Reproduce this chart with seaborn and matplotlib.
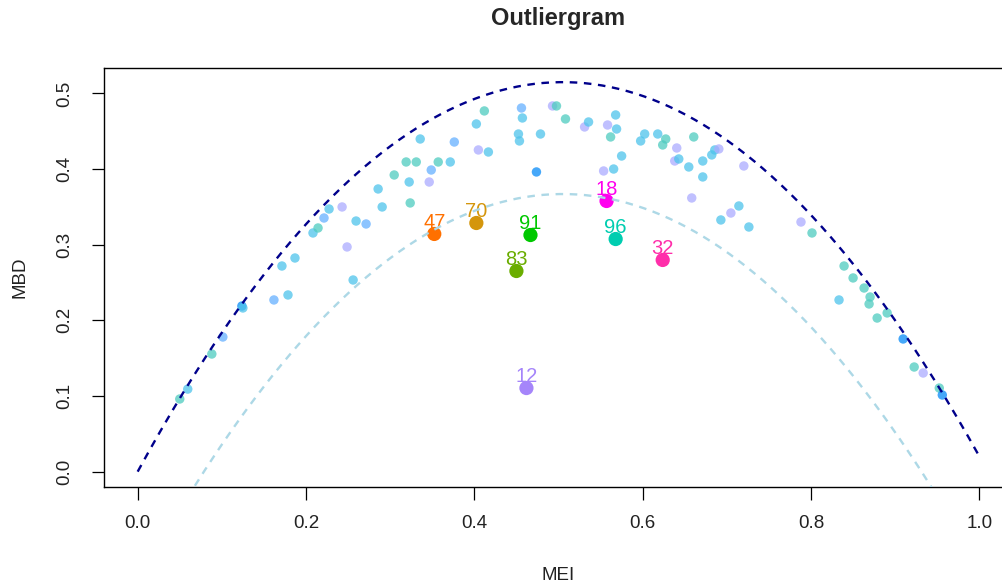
import numpy as np
import pandas as pd
import matplotlib
matplotlib.use("Agg")
import matplotlib.pyplot as plt
import seaborn as sns

# ---------------- data ----------------
mei = [0.050, 0.0595, 0.0881, 0.1012, 0.1238, 0.1250, 0.1619, 0.1786, 0.1714, 0.1869,
       0.2083, 0.2143, 0.2214, 0.2274, 0.2429, 0.2595, 0.2488, 0.2560, 0.2714, 0.2857,
       0.2905, 0.3048, 0.3226, 0.3238, 0.3190, 0.3310, 0.3357, 0.3488, 0.3464, 0.3571,
       0.3714, 0.3762, 0.4119, 0.4024, 0.4048, 0.4167, 0.4560, 0.4571, 0.4524, 0.4536,
       0.4786, 0.4738, 0.4929, 0.4976, 0.5083, 0.5310, 0.5357, 0.5583, 0.5679, 0.5690,
       0.5619, 0.5750, 0.5536, 0.5655, 0.6024, 0.5976, 0.6179, 0.6274, 0.6238, 0.6405,
       0.6381, 0.6429, 0.6607, 0.6548, 0.6714, 0.6821, 0.6857, 0.6905, 0.6714, 0.7202,
       0.6583, 0.7143, 0.7048, 0.6929, 0.7262, 0.7881, 0.8012, 0.8393, 0.8500, 0.8631,
       0.8702, 0.8690, 0.8333, 0.8905, 0.8786, 0.9095, 0.9226, 0.9333, 0.9524, 0.9560]
mbd = [0.0959, 0.1090, 0.1554, 0.1779, 0.2189, 0.2163, 0.2269, 0.2335, 0.2718, 0.2824,
       0.3155, 0.3221, 0.3353, 0.3472, 0.3499, 0.3313, 0.2970, 0.2533, 0.3274, 0.3737,
       0.3499, 0.3922, 0.3829, 0.3552, 0.4094, 0.4094, 0.4398, 0.3988, 0.3829, 0.4094,
       0.4094, 0.4358, 0.4769, 0.4597, 0.4253, 0.4226, 0.4808, 0.4676, 0.4464, 0.4372,
       0.4464, 0.3962, 0.4835, 0.4835, 0.4663, 0.4557, 0.4623, 0.4583, 0.4716, 0.4530,
       0.4425, 0.4173, 0.3975, 0.4001, 0.4464, 0.4372, 0.4464, 0.4398, 0.4319, 0.4279,
       0.4107, 0.4134, 0.4425, 0.4028, 0.4107, 0.4187, 0.4253, 0.4266, 0.3896, 0.4041,
       0.3618, 0.3512, 0.3419, 0.3327, 0.3234, 0.3300, 0.3155, 0.2718, 0.2560, 0.2427,
       0.2308, 0.2216, 0.2269, 0.2097, 0.2030, 0.1753, 0.1382, 0.1303, 0.1104, 0.1012]
group = list("tctbdcbccc" "ctbclclcbc" "ctctttcblt" "cbtclcbccc" "cdlttlclcc"
             "tclccccttl" "lctcccclcl" "lclccltttt" "ttcttdtltd")

out_id = ["47", "70", "91", "83", "12", "18", "96", "32"]
out_mei = [0.3524, 0.4024, 0.4667, 0.4500, 0.4619, 0.5571, 0.5679, 0.6238]
out_mbd = [0.3142, 0.3287, 0.3128, 0.2652, 0.1104, 0.3578, 0.3075, 0.2798]
out_col = ["#FF7000", "#D4960C", "#00C800", "#6AAD00", "#A585FA", "#FF00EE", "#00CDB0", "#FF2EAA"]

# parabola of the outliergram: a0 + a1*MEI + a2*MEI^2, lower bound shifted down
a0, a1, a2 = -0.000202, 2.0404, -2.0202
lower_shift = 0.148

group_pal = {"t": "#4ECBC0", "c": "#4EC3EB", "b": "#66B0FF", "l": "#ABABFF", "d": "#088BF8"}

x_ticks = [0.0, 0.2, 0.4, 0.6, 0.8, 1.0]
y_ticks = [0.0, 0.1, 0.2, 0.3, 0.4, 0.5]

# ---------------- plot ----------------
sns.set_style("white")
plt.rcParams["font.family"] = ["Liberation Sans", "DejaVu Sans"]

fig = plt.figure(figsize=(10.03, 5.86), dpi=100)
ax = fig.add_axes([104 / 1003, (586 - 487) / 586, 909 / 1003, 419 / 586])

df = pd.DataFrame({"MEI": mei, "MBD": mbd, "g": group})
sns.scatterplot(data=df, x="MEI", y="MBD", hue="g", palette=group_pal, s=46,
                alpha=0.75, linewidth=0, legend=False, ax=ax, zorder=2)

dfo = pd.DataFrame({"MEI": out_mei, "MBD": out_mbd, "id": out_id})
sns.scatterplot(data=dfo, x="MEI", y="MBD", hue="id", palette=dict(zip(out_id, out_col)),
                s=105, linewidth=0, legend=False, ax=ax, zorder=3)
for xi, yi, lab, c in zip(out_mei, out_mbd, out_id, out_col):
    ax.annotate(lab, (xi, yi), xytext=(0, 8), textcoords="offset points",
                ha="center", va="center", fontsize=14.5, color=c, zorder=4)

grid = np.linspace(0, 1, 300)
upper = a0 + a1 * grid + a2 * grid ** 2
lower = upper - lower_shift
sns.lineplot(x=grid, y=upper, ax=ax, color="#00008B", linewidth=1.7,
             linestyle=(0, (3.2, 2.8)), errorbar=None, zorder=5)
sns.lineplot(x=grid, y=lower, ax=ax, color="#ADD8E6", linewidth=1.7,
             linestyle=(0, (3.2, 2.8)), errorbar=None, zorder=5)

ax.set_xlim(-0.04, 1.04)
ax.set_ylim(-0.0205, 0.5337)
ax.set_xticks(x_ticks)
ax.set_xticklabels([f"{v:.1f}" for v in x_ticks])
ax.set_yticks(y_ticks)
ax.set_yticklabels([f"{v:.1f}" for v in y_ticks], rotation=90, va="center")
ax.tick_params(axis="both", which="major", bottom=True, left=True, direction="out",
               length=9, width=0.9, color="black", labelsize=13.5, labelcolor="#222222")
ax.tick_params(axis="x", pad=11)
ax.tick_params(axis="y", pad=13)
for sp in ax.spines.values():
    sp.set_visible(True)
    sp.set_color("black")
    sp.set_linewidth(1.0)

ax.set_xlabel("MEI", fontsize=13.5, color="#222222")
ax.set_ylabel("MBD", fontsize=13.5, color="#222222")
ax.xaxis.set_label_coords(0.5, (487 - 575) / 419)
ax.xaxis.label.set_verticalalignment("center")
ax.yaxis.set_label_coords((20 - 104) / 909, 0.5)
ax.yaxis.label.set_verticalalignment("center")

ax.set_title("Outliergram", fontsize=17, fontweight="bold", y=(487 - 18) / 419,
             va="center", pad=0)

fig.savefig("out.png", dpi=100)
